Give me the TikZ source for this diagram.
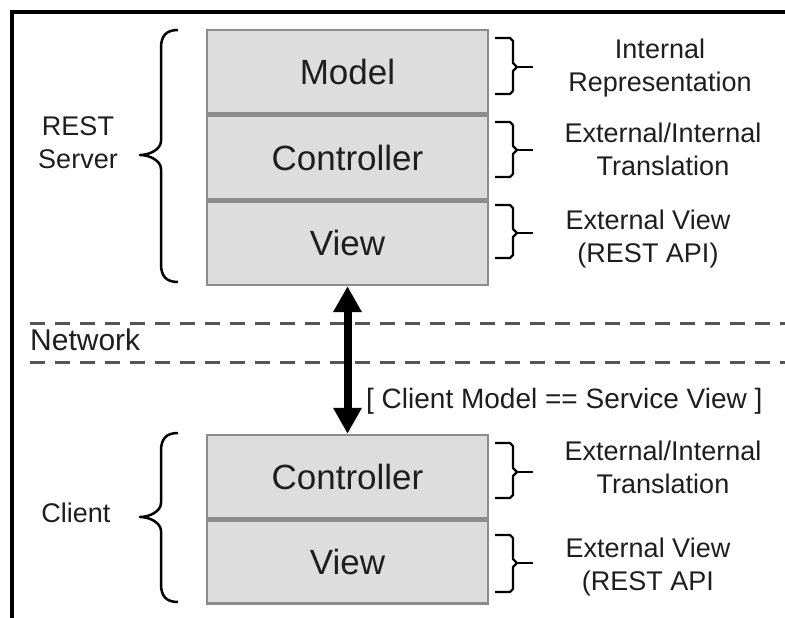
\documentclass[tikz,border=0pt]{standalone}
\usepackage{fontspec}
\setmainfont{Liberation Sans}
\usetikzlibrary{arrows.meta}

\definecolor{layerfill}{HTML}{DDDDDD}
\definecolor{layeredge}{HTML}{8C8C8C}
\definecolor{ink}{HTML}{1E1E1E}
\definecolor{netline}{HTML}{555555}

% right-hand brace next to one layer: top y, bottom y, tip y
\newcommand\layerbrace[3]{%
  \draw[bracestroke] (495,#1) -- (510,#1) -- (513,#1+3) -- (513,#3-4) -- (517,#3)
        -- (513,#3+4) -- (513,#2-3) -- (510,#2) -- (495,#2);
  \draw[bracestroke] (517,#3) -- (533,#3);
}
% left-hand curly brace grouping a stack: top y, bottom y, tip y
\newcommand\groupbrace[3]{%
  \draw[bracestroke, line width=2.5pt] (178,#1) .. controls (166,#1) and (161,#1+6) .. (161,#1+18)
        -- (161,#3-14) .. controls (161,#3-6) and (150,#3) .. (140,#3)
        .. controls (150,#3) and (161,#3+6) .. (161,#3+14)
        -- (161,#2-18) .. controls (161,#2-6) and (166,#2) .. (178,#2);
}

\begin{document}
\begin{tikzpicture}[x=1pt, y=-1pt,
  layer/.style={draw=layeredge, line width=2.5pt, fill=layerfill,
    minimum width=281pt, minimum height=83.3pt, inner sep=0pt,
    font=\fontsize{35}{40}\selectfont, text=ink},
  note/.style={align=center, inner sep=0pt, text=ink,
    font=\fontsize{27}{33}\selectfont, anchor=base},
  bracestroke/.style={draw=black, line width=2.2pt, line join=round},
  netdash/.style={draw=netline, line width=3pt, dash pattern=on 15pt off 10pt},
  link/.style={line width=8pt, draw=black,
    {Triangle[width=27pt,length=26pt]}-{Triangle[width=27pt,length=26pt]}}]

\useasboundingbox[fill=white] (0,0) rectangle (785,618);

% frame
\draw[line width=4pt] (12,625) -- (12,12) -- (790,12);

% server stack
\node[layer] (smodel) at (347.5,71.7) {Model};
\node[layer, anchor=north] (sctrl) at (smodel.south) {Controller};
\node[layer, anchor=north] (sview) at (sctrl.south) {View};

% client stack
\node[layer, minimum height=83pt] (cctrl) at (347.5,476.5) {Controller};
\node[layer, minimum height=83pt, anchor=north] (cview) at (cctrl.south) {View};

% network band
\draw[netdash] (30,323) -- (790,323);
\draw[netdash] (30,362) -- (790,362);
\node[anchor=base west, inner sep=0pt, text=ink, font=\fontsize{30}{34}\selectfont]
  (net) at (30,350) {Network};

% request/response link
\draw[link] (sview.south) -- (cctrl.north);
\node[anchor=base west, inner sep=0pt, text=ink, font=\fontsize{28}{32}\selectfont]
  (contract) at (366,408) {[ Client Model == Service View ]};

% group labels (base anchor sits on the last line)
\groupbrace{30}{282}{155}
\node[note] (server) at (78,168) {REST\\Server};
\groupbrace{433}{602}{517}
\node[note] (client) at (76,522) {Client};

% layer notes
\layerbrace{38}{94}{67}
\node[note] (n1) at (660,92) {Internal\\Representation};
\layerbrace{122}{177}{150}
\node[note] (n2) at (663,175) {External/Internal\\Translation};
\layerbrace{205}{258}{233}
\node[note] (n3) at (648,262) {External View\\(REST API)};
\layerbrace{443}{498}{472}
\node[note] (n4) at (663,493) {External/Internal\\Translation};
\layerbrace{535}{592}{563}
\node[note] (n5) at (648,590) {External View\\(REST API};

\end{tikzpicture}
\end{document}
